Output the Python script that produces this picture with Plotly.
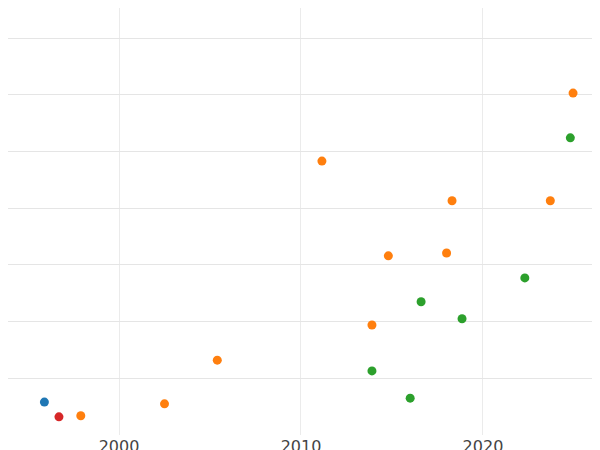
import plotly.graph_objects as go

blue_x = [1995.9]; blue_y = [0.58]
red_x = [1996.7]; red_y = [0.32]
orange_x = [1997.9, 2002.5, 2005.4, 2011.15, 2013.9, 2014.8, 2018.0, 2018.3, 2023.7, 2024.95]
orange_y = [0.34, 0.55, 1.32, 4.83, 1.94, 3.16, 3.21, 4.13, 4.13, 6.03]
green_x = [2013.9, 2016.0, 2016.6, 2018.85, 2022.3, 2024.8]
green_y = [1.13, 0.65, 2.35, 2.05, 2.77, 5.24]

fig = go.Figure()
for xs, ys, c in [(blue_x, blue_y, "#1f77b4"), (red_x, red_y, "#d62728"),
                  (orange_x, orange_y, "#ff7f0e"), (green_x, green_y, "#2ca02c")]:
    fig.add_trace(go.Scatter(x=xs, y=ys, mode="markers", marker=dict(color=c, size=9)))

fig.update_layout(width=600, height=450, showlegend=False,
                  margin=dict(l=0, r=0, t=0, b=23, autoexpand=False),
                  font=dict(family="DejaVu Sans"),
                  plot_bgcolor="white", paper_bgcolor="white")
fig.update_xaxes(range=[1993.9, 2026.87], tickvals=[2000, 2010, 2020], showgrid=True,
                 automargin=False, gridcolor="#ebebeb", zeroline=False,
                 tickfont=dict(size=16, color="#444"))
fig.update_yaxes(range=[0, 7.53], dtick=1, showticklabels=False, showgrid=True,
                 automargin=False, gridcolor="#e5e5e5", zeroline=False)
fig.write_html("out.html")
